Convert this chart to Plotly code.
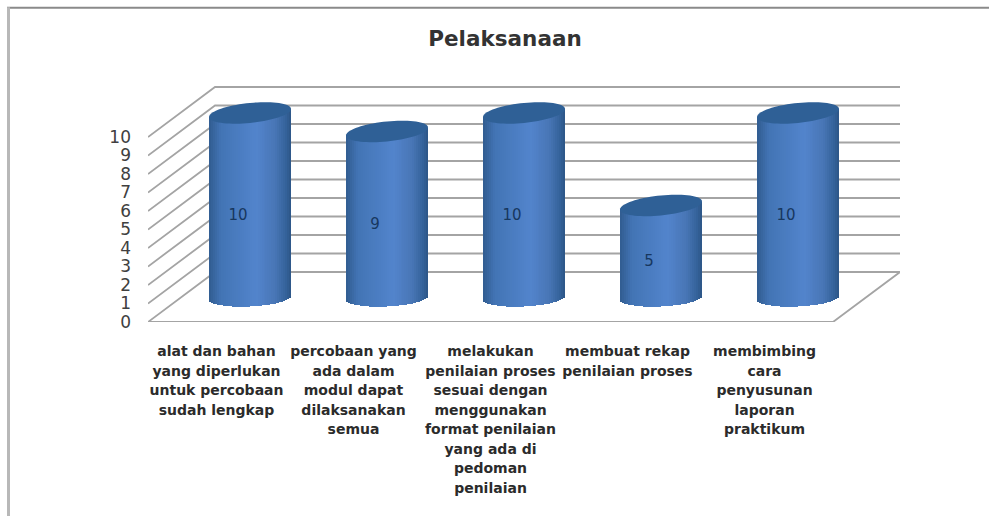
import math
import plotly.graph_objects as go

# --- data ---
categories = [
    ["alat dan bahan", "yang diperlukan", "untuk percobaan", "sudah lengkap"],
    ["percobaan yang", "ada dalam", "modul dapat", "dilaksanakan", "semua"],
    ["melakukan", "penilaian proses", "sesuai dengan", "menggunakan", "format penilaian", "yang ada di", "pedoman", "penilaian"],
    ["membuat rekap", "penilaian proses"],
    ["membimbing", "cara", "penyusunan", "laporan", "praktikum"],
]
values = [10, 9, 10, 5, 10]
y_ticks = list(range(0, 11))
title_text = "Pelaksanaan"

# --- geometry / style (pixels converted to axis units) ---
W, H = 989, 516
L, R, T, B = 148, 900, 85.7, 321.7
PX_X = 137.0      # px per category
PX_Y = 18.5       # px per value unit
DEPTH_X = 67 / PX_X
DEPTH_Y = 50 / PX_Y
BASE = 1.3
HALF_W = 41 / PX_X
RY_TOP = 10 / PX_Y
RY_BOT = 8.5 / PX_Y
TILT_TOP = 4 / PX_Y
TILT_BOT = 2 / PX_Y
N_SLICES = 42
GRID = "#a4a4a4"
GRAD = [(-1.0, (48, 92, 144)), (-0.72, (66, 116, 180)), (0.15, (82, 132, 204)),
        (0.62, (72, 118, 182)), (0.88, (52, 98, 154)), (1.0, (44, 86, 134))]
CAP = "#2f6096"


def grad_color(t):
    for (a, ca), (b, cb) in zip(GRAD, GRAD[1:]):
        if t <= b:
            f = (t - a) / (b - a)
            return "rgb(%d,%d,%d)" % tuple(round(x + (y - x) * f) for x, y in zip(ca, cb))
    return "rgb(%d,%d,%d)" % GRAD[-1][1]


xs, bases, heights, colors = [], [], [], []
shapes = []


def line_path(points):
    return "M" + " L".join(f"{x:.4f},{y:.4f}" for x, y in points)


# walls and floor
for v in y_ticks:
    shapes.append(dict(type="path", xref="x", yref="y", layer="below",
                       path=line_path([(0, v), (DEPTH_X, v + DEPTH_Y), (len(values) + DEPTH_X, v + DEPTH_Y)]),
                       line=dict(color=GRID, width=1.8)))
shapes.append(dict(type="path", xref="x", yref="y", layer="below",
                   path=line_path([(0, 0), (len(values), 0), (len(values) + DEPTH_X, DEPTH_Y)]),
                   line=dict(color=GRID, width=1.8)))

slice_w = 2 * HALF_W / N_SLICES
for i, v in enumerate(values):
    cx = i + 0.5 + DEPTH_X / 2
    for k in range(N_SLICES):
        t = -1 + (k + 0.5) * 2 / N_SLICES
        s = math.sqrt(1 - t * t)
        low = BASE + TILT_BOT * t - RY_BOT * s
        top = BASE + v + TILT_TOP * t
        xs.append(cx + t * HALF_W)
        bases.append(low)
        heights.append(top - low)
        colors.append(grad_color(t))
    pts = []
    for a in range(0, 73):
        th = a * 2 * math.pi / 72
        t = math.cos(th)
        pts.append((cx + HALF_W * t, BASE + v + TILT_TOP * t + RY_TOP * math.sin(th)))
    shapes.append(dict(type="path", xref="x", yref="y", layer="above",
                       path=line_path(pts) + " Z", fillcolor=CAP, line=dict(width=0)))

# picture frame
shapes.append(dict(type="line", xref="paper", yref="paper",
                   x0=(7 - L) / (R - L), x1=(989 - L) / (R - L),
                   y0=(B - 7.5) / (B - T), y1=(B - 7.5) / (B - T),
                   line=dict(color="#8a8a8a", width=2)))
shapes.append(dict(type="line", xref="paper", yref="paper",
                   x0=(8.5 - L) / (R - L), x1=(8.5 - L) / (R - L),
                   y0=(B - 7) / (B - T), y1=(B - 516) / (B - T),
                   line=dict(color="#b8b8b8", width=3)))

fig = go.Figure()
fig.add_trace(go.Bar(x=xs, y=heights, base=bases, width=slice_w * 1.15,
                     marker=dict(color=colors, line=dict(width=0)), hoverinfo="skip", showlegend=False))
fig.add_trace(go.Scatter(x=[i + 0.5 + DEPTH_X / 2 - 12 / PX_X for i in range(len(values))],
                         y=[BASE + v / 2 - 0.56 for v in values],
                         mode="text", text=[str(v) for v in values],
                         textfont=dict(family="DejaVu Sans", size=15, color="#17375e"),
                         hoverinfo="skip", showlegend=False))

LABEL_PX = 14
tick_text = ["<br>".join(f'<span style="font-size:{LABEL_PX}px">{ln}</span>' for ln in c) for c in categories]

fig.update_layout(
    width=W, height=H, autosize=False,
    margin=dict(l=L, r=W - R, t=T, b=H - B, pad=0),
    paper_bgcolor="white", plot_bgcolor="white",
    barmode="overlay", bargap=0,
    title=dict(text=title_text, x=505 / W, xanchor="center", y=1 - 38 / H, yanchor="middle",
               font=dict(family="DejaVu Sans", size=21.5, color="#333333", weight="bold")),
    xaxis=dict(range=[0, (R - L) / PX_X], tickvals=[i + 0.5 for i in range(len(values))], ticktext=tick_text,
               tickangle=0, showgrid=False, zeroline=False, showline=False, ticks="",
               ticklabelstandoff=18,
               tickfont=dict(family="DejaVu Sans", size=15, color="#2b2b2b", weight="bold")),
    yaxis=dict(range=[0, (B - T) / PX_Y], tickvals=y_ticks, showgrid=False, zeroline=False, showline=False,
               ticks="", ticklabelstandoff=16,
               tickfont=dict(family="DejaVu Sans", size=17, color="#404040")),
    shapes=shapes,
)

fig.write_html("out.html", config=dict(displayModeBar=False),
               post_script="document.body.style.margin='0';")
